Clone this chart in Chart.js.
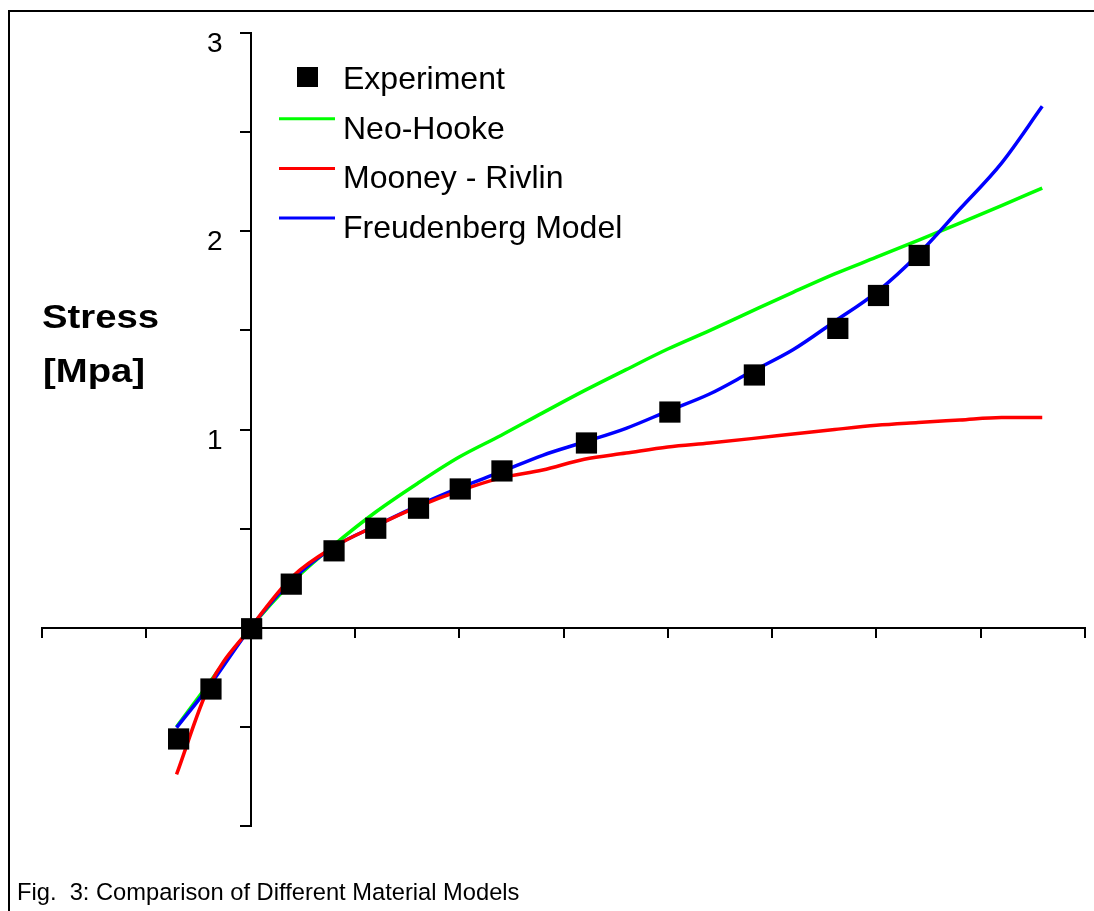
<!DOCTYPE html>
<html>
<head>
<meta charset="utf-8">
<script src="https://cdn.jsdelivr.net/npm/chart.js@4"></script>
<style>
  body { margin: 0; background: #fff; }
  canvas { display: block; }
</style>
</head>
<body>
<canvas id="myChart" width="1094" height="911"></canvas>
<script>
const ctx = document.getElementById("myChart").getContext("2d");

// strain values used by the model curves
const strain = [-0.071, -0.04, 0, 0.04, 0.08, 0.12, 0.16, 0.2, 0.24, 0.28, 0.32, 0.36,
    0.4, 0.44, 0.48, 0.52, 0.56, 0.6, 0.64, 0.68, 0.72, 0.759];

const neoHooke = [-0.50, -0.28, 0, 0.232, 0.418, 0.584, 0.728, 0.861, 0.970, 1.084, 1.196, 1.302,
    1.406, 1.499, 1.596, 1.692, 1.785, 1.869, 1.954, 2.041, 2.129, 2.218];

const mooneyRivlin = [-0.74, -0.297, 0, 0.257, 0.408, 0.514, 0.610, 0.690, 0.756, 0.796, 0.850, 0.881,
    0.912, 0.932, 0.954, 0.977, 1.000, 1.021, 1.035, 1.048, 1.061, 1.061];

const freudenberg = [-0.504, -0.297, 0, 0.242, 0.408, 0.514, 0.615, 0.705, 0.786, 0.870, 0.937, 1.006,
    1.093, 1.179, 1.291, 1.402, 1.545, 1.692, 1.883, 2.112, 2.344, 2.630];

// measured points
const expStrain = [-0.069, -0.038, 0.001, 0.039, 0.080, 0.120, 0.161, 0.201, 0.241, 0.322, 0.402, 0.483, 0.563, 0.602, 0.641];
const expStress = [-0.561, -0.309, -0.005, 0.220, 0.388, 0.502, 0.603, 0.700, 0.791, 0.932, 1.088, 1.275, 1.510, 1.676, 1.878];

const yLabels = [1, 2, 3];

const toXY = (xs, ys) => xs.map((x, i) => ({x: x, y: ys[i]}));

const lineSet = (label, ys, color, order) => ({
    label: label,
    data: toXY(strain, ys),
    showLine: true,
    borderColor: color,
    backgroundColor: color,
    borderWidth: 3.5,
    pointRadius: 0,
    cubicInterpolationMode: 'monotone',
    order: order,
});

const data = {
    datasets: [
        {
            label: "Experiment",
            data: toXY(expStrain, expStress),
            showLine: false,
            pointStyle: 'rect',
            pointRadius: 15,
            pointBorderWidth: 0,
            backgroundColor: '#000',
            borderColor: '#000',
            order: 0,
        },
        lineSet("Neo-Hooke", neoHooke, 'rgb(0,255,0)', 3),
        lineSet("Mooney - Rivlin", mooneyRivlin, 'rgb(255,0,0)', 1),
        lineSet("Freudenberg Model", freudenberg, 'rgb(0,0,255)', 2),
    ],
};

// frame, tick labels, axis title, legend and caption
const decor = {
    id: 'decor',
    beforeDraw(chart) {
        const c = chart.ctx;
        c.save();
        c.fillStyle = '#fff';
        c.fillRect(0, 0, chart.width, chart.height);
        c.strokeStyle = '#000';
        c.lineWidth = 2;
        c.strokeRect(9, 11, chart.width + 20, chart.height + 20);
        c.restore();
    },
    afterDraw(chart) {
        const c = chart.ctx;
        const xs = chart.scales.x;
        const ys = chart.scales.y;
        c.save();
        c.fillStyle = '#000';

        // y tick labels, sitting a little below their ticks
        c.font = '28px "Liberation Sans", Arial, sans-serif';
        c.textAlign = 'right';
        c.textBaseline = 'alphabetic';
        const axisX = xs.getPixelForValue(0);
        yLabels.forEach(v => {
            c.fillText(String(v), axisX - 28, ys.getPixelForValue(v) + 19);
        });

        c.textAlign = 'left';
        // y axis title (slightly wide bold face)
        c.font = 'bold 33px "Liberation Sans", Arial, sans-serif';
        c.save();
        c.translate(42, 328);
        c.scale(1.16, 1);
        c.fillText('Stress', 0, 0);
        c.restore();
        c.save();
        c.translate(43, 382);
        c.scale(1.16, 1);
        c.fillText('[Mpa]', 0, 0);
        c.restore();

        // legend
        c.font = '32px "Liberation Sans", Arial, sans-serif';
        const rows = chart.data.datasets;
        const baseY = 89;
        const gap = 49.7;
        rows.forEach((ds, i) => {
            const yb = baseY + i * gap;
            if (i === 0) {
                c.fillStyle = '#000';
                c.fillRect(297, 67, 21, 20);
            } else {
                c.strokeStyle = ds.borderColor;
                c.lineWidth = 3;
                c.beginPath();
                c.moveTo(279, yb - 20);
                c.lineTo(335, yb - 20);
                c.stroke();
            }
            c.fillStyle = '#000';
            c.fillText(ds.label, 343, yb);
        });

        // caption
        c.font = '23.7px "Liberation Sans", Arial, sans-serif';
        c.fillText('Fig.  3: Comparison of Different Material Models', 17, 900);
        c.restore();
    }
};

const config = {
    type: 'scatter',
    data: data,
    options: {
        responsive: false,
        animation: false,
        layout: {
            autoPadding: false,
            padding: {left: 42, right: 9, top: 33, bottom: 85},
        },
        scales: {
            x: {
                type: 'linear',
                min: -0.2,
                max: 0.8,
                position: {y: 0},
                border: {display: true, color: '#000', width: 2},
                grid: {
                    drawOnChartArea: false,
                    drawTicks: true,
                    tickLength: 9,
                    color: '#000',
                    lineWidth: 2,
                },
                ticks: {
                    stepSize: 0.1,
                    autoSkip: false,
                    display: false,
                },
            },
            y: {
                type: 'linear',
                min: -1,
                max: 3,
                position: {x: 0},
                border: {display: true, color: '#000', width: 2},
                grid: {
                    drawOnChartArea: false,
                    drawTicks: true,
                    tickLength: 10,
                    color: '#000',
                    lineWidth: 2,
                },
                ticks: {
                    stepSize: 0.5,
                    autoSkip: false,
                    display: false,
                },
            },
        },
        plugins: {
            legend: {display: false},
            tooltip: {enabled: false},
        },
    },
    plugins: [decor],
};

const myChart = new Chart(ctx, config);
</script>
</body>
</html>
